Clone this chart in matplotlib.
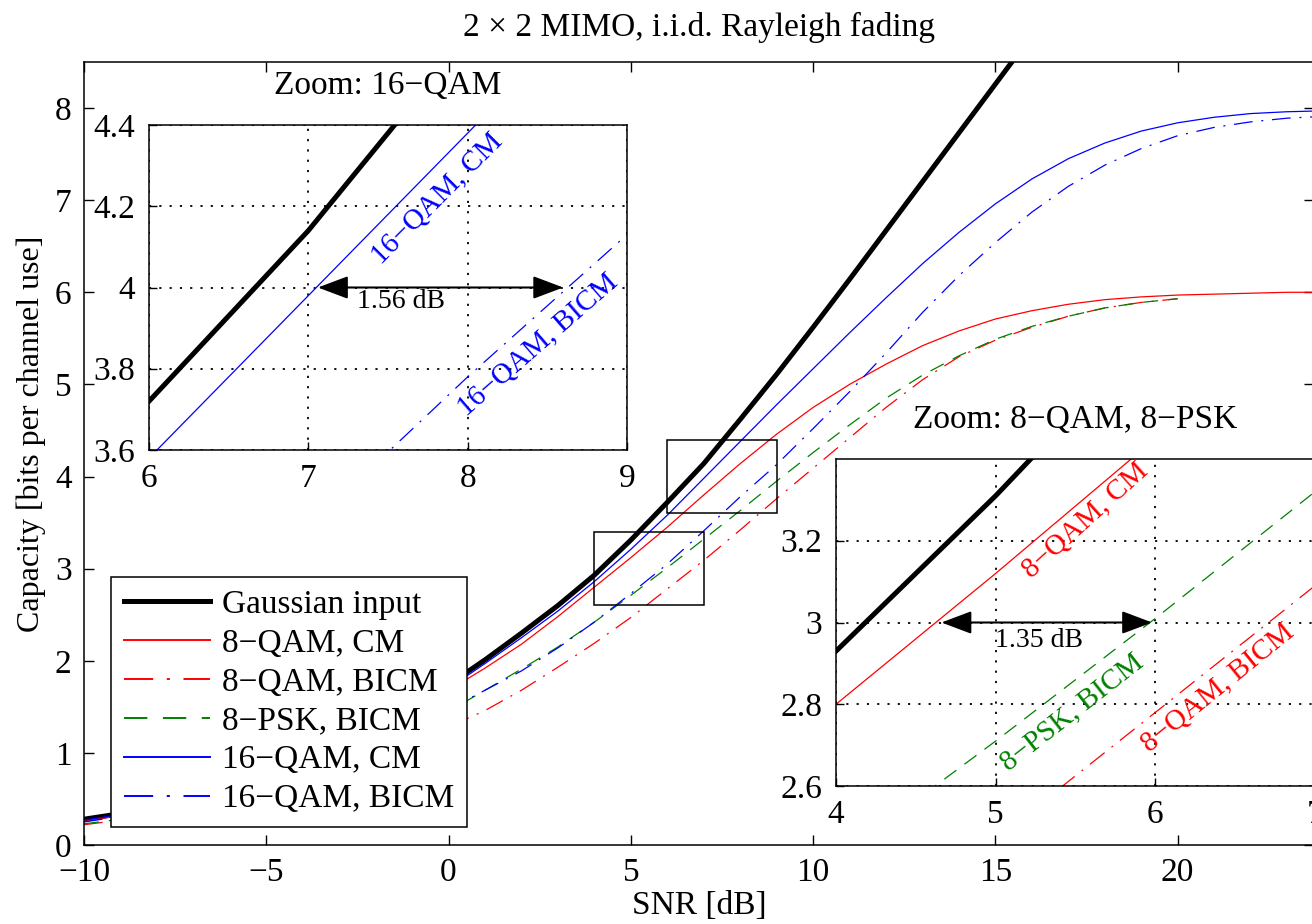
import numpy as np
import matplotlib
matplotlib.use('Agg')
import matplotlib.pyplot as plt
from matplotlib.patches import Rectangle

plt.rcParams['font.family'] = ['Liberation Serif', 'DejaVu Serif']

# SNR grid [dB] and capacity values [bits per channel use]
snr_db = np.arange(-10, 25)
gauss = [0.28, 0.34, 0.42, 0.51, 0.62, 0.75, 0.90, 1.07, 1.26, 1.48,
         1.74, 2.01, 2.30, 2.60, 2.93, 3.31, 3.72, 4.14, 4.62, 5.11,
         5.62, 6.14, 6.67, 7.20, 7.73, 8.26, 8.79]
qam8_cm = [0.26, 0.32, 0.40, 0.49, 0.59, 0.71, 0.85, 1.02, 1.20, 1.42,
           1.68, 1.92, 2.18, 2.48, 2.80, 3.12, 3.45, 3.80, 4.14, 4.46,
           4.75, 5.00, 5.22, 5.42, 5.58, 5.71, 5.80, 5.87, 5.92, 5.95,
           5.97, 5.98, 5.99, 6.00, 6.00]
qam8_bicm = [0.22, 0.27, 0.33, 0.40, 0.48, 0.57, 0.68, 0.81, 0.95, 1.11,
             1.28, 1.46, 1.68, 1.93, 2.19, 2.47, 2.78, 3.09, 3.42, 3.76,
             4.09, 4.42, 4.75, 5.05, 5.30, 5.48, 5.62, 5.74, 5.83, 5.89,
             5.93]
psk8_bicm = [0.23, 0.28, 0.35, 0.43, 0.52, 0.63, 0.75, 0.89, 1.05, 1.24,
             1.45, 1.68, 1.91, 2.15, 2.42, 2.71, 3.01, 3.32, 3.63, 3.95,
             4.26, 4.56, 4.85, 5.10, 5.31, 5.49, 5.63, 5.74, 5.83, 5.89,
             5.93]
qam16_cm = [0.27, 0.33, 0.41, 0.50, 0.60, 0.73, 0.87, 1.04, 1.22, 1.44,
            1.70, 1.97, 2.25, 2.54, 2.86, 3.21, 3.58, 3.98, 4.38, 4.78,
            5.17, 5.56, 5.94, 6.31, 6.65, 6.96, 7.23, 7.45, 7.62, 7.75,
            7.84, 7.90, 7.94, 7.96, 7.97]
qam16_bicm = [0.25, 0.31, 0.38, 0.46, 0.56, 0.67, 0.80, 0.95, 1.11, 1.29,
              1.47, 1.68, 1.89, 2.14, 2.42, 2.73, 3.05, 3.41, 3.78, 4.13,
              4.52, 4.92, 5.34, 5.78, 6.18, 6.54, 6.87, 7.15, 7.38, 7.56,
              7.70, 7.79, 7.85, 7.89, 7.91]

labels = ['Gaussian input', '8\u2212QAM, CM', '8\u2212QAM, BICM',
          '8\u2212PSK, BICM', '16\u2212QAM, CM', '16\u2212QAM, BICM']

# zoom windows
zoom16_x, zoom16_y = (6, 9), (3.6, 4.4)
zoom8_x, zoom8_y = (4, 7), (2.6, 3.4)
zoom16_xticks = [6, 7, 8, 9]
zoom16_yticks = [3.6, 3.8, 4.0, 4.2, 4.4]
zoom16_yticklabels = ['3.6', '3.8', '4', '4.2', '4.4']
zoom8_xticks = [4, 5, 6, 7]
zoom8_yticks = [2.6, 2.8, 3.0, 3.2]
zoom8_yticklabels = ['2.6', '2.8', '3', '3.2']

# SNR gaps marked in the zooms: from, to, level, text x, text y, text
gap16 = (7.06, 8.60, 4.0, 7.58, 3.965, '1.56 dB')
gap8 = (4.66, 5.98, 3.0, 5.27, 2.957, '1.35 dB')

FS = 24
LW = 0.9
dashed = (0, (12, 8))
dashdot = (0, (15, 7, 1.6, 7))

styles = {
    'gauss': dict(color='k', lw=3.6, ls='-'),
    'qam8_cm': dict(color='#ff0000', lw=LW, ls='-'),
    'qam8_bicm': dict(color='#ff0000', lw=LW, ls=dashdot),
    'psk8_bicm': dict(color='#008000', lw=LW, ls=dashed),
    'qam16_cm': dict(color='#0000ff', lw=LW, ls='-'),
    'qam16_bicm': dict(color='#0000ff', lw=LW, ls=dashdot),
}
data = {
    'gauss': gauss, 'qam8_cm': qam8_cm, 'qam8_bicm': qam8_bicm,
    'psk8_bicm': psk8_bicm, 'qam16_cm': qam16_cm, 'qam16_bicm': qam16_bicm,
}
order = ['gauss', 'qam8_cm', 'qam8_bicm', 'psk8_bicm', 'qam16_cm', 'qam16_bicm']


def draw(ax, keys, with_labels=False):
    for key in keys:
        y = data[key]
        lab = labels[order.index(key)] if with_labels else None
        ax.plot(snr_db[:len(y)], y, label=lab, **styles[key])


fig = plt.figure(figsize=(13.12, 9.24), dpi=100)

# main axes
ax = fig.add_axes([84 / 1312, 79 / 924, 1230 / 1312, 783 / 924])
draw(ax, order, with_labels=True)
ax.set_xlim(-10, 23.74)
ax.set_ylim(0, 8.5)
ax.set_xticks([-10, -5, 0, 5, 10, 15, 20])
ax.set_yticks([0, 1, 2, 3, 4, 5, 6, 7, 8])
ax.tick_params(direction='in', top=True, right=True, length=7, width=1,
               labelsize=FS, pad=9)
for s in ax.spines.values():
    s.set_linewidth(1.1)
ax.set_title('2 \u00d7 2 MIMO, i.i.d. Rayleigh fading', fontsize=FS, pad=19)
ax.set_xlabel('SNR [dB]', fontsize=FS)
ax.xaxis.set_label_coords(0.5, -0.058)
ax.set_ylabel('Capacity [bits per channel use]', fontsize=23)
ax.yaxis.set_label_coords(-0.031, 0.525)

for zx, zy in [(zoom16_x, zoom16_y), (zoom8_x, zoom8_y)]:
    ax.add_patch(Rectangle((zx[0], zy[0]), zx[1] - zx[0], zy[1] - zy[0],
                           fill=False, ec='k', lw=1.1, zorder=5))

leg = ax.legend(loc='lower left', bbox_to_anchor=(0.022, 0.023),
                borderaxespad=0, fontsize=FS, frameon=True, fancybox=False,
                edgecolor='k', framealpha=1, handlelength=2.6,
                handletextpad=0.35, labelspacing=0.25, borderpad=0.38)
leg.get_frame().set_linewidth(1.1)
for line in leg.get_lines():
    if line.get_color() != 'k':
        line.set_linewidth(1.4)


def setup_inset(axi, xl, yl, xt, yt, ytl, title):
    axi.set_xlim(*xl)
    axi.set_ylim(*yl)
    axi.set_xticks(xt)
    axi.set_yticks(yt)
    axi.set_yticklabels(ytl)
    axi.tick_params(direction='in', length=6, width=1, labelsize=FS, pad=10)
    axi.grid(True, color='k', lw=1.3, ls=(0, (1.2, 4.5)))
    for s in axi.spines.values():
        s.set_linewidth(1.1)
    axi.set_title(title, fontsize=FS, pad=22)


def gap_arrow(axi, gap):
    x0, x1, yv, tx, ty, txt = gap
    axi.annotate('', xy=(x1, yv), xytext=(x0, yv),
                 arrowprops=dict(arrowstyle='<|-|>,head_length=0.85,head_width=0.32',
                                 color='k', lw=1.5, shrinkA=0, shrinkB=0,
                                 mutation_scale=22))
    axi.text(tx, ty, txt, fontsize=20, ha='center', va='center')


# zoom on 16-QAM
ax1 = fig.add_axes([149 / 1312, 474 / 924, 478 / 1312, 325 / 924])
draw(ax1, ['gauss', 'qam16_cm', 'qam16_bicm'])
setup_inset(ax1, zoom16_x, zoom16_y, zoom16_xticks, zoom16_yticks,
            zoom16_yticklabels, 'Zoom: 16\u2212QAM')
gap_arrow(ax1, gap16)
ax1.text(7.81, 4.22, '16\u2212QAM, CM', color='#0000ff', fontsize=21,
         rotation=45, ha='center', va='center', rotation_mode='anchor')
ax1.text(8.44, 3.86, '16\u2212QAM, BICM', color='#0000ff', fontsize=21,
         rotation=41, ha='center', va='center', rotation_mode='anchor')

# zoom on 8-QAM / 8-PSK
ax2 = fig.add_axes([836 / 1312, 138 / 924, 479 / 1312, 327 / 924])
draw(ax2, ['gauss', 'qam8_cm', 'qam8_bicm', 'psk8_bicm'])
setup_inset(ax2, zoom8_x, zoom8_y, zoom8_xticks, zoom8_yticks,
            zoom8_yticklabels, 'Zoom: 8\u2212QAM, 8\u2212PSK')
gap_arrow(ax2, gap8)
ax2.text(5.56, 3.25, '8\u2212QAM, CM', color='#ff0000', fontsize=21,
         rotation=42, ha='center', va='center', rotation_mode='anchor')
ax2.text(5.48, 2.78, '8\u2212PSK, BICM', color='#008000', fontsize=21,
         rotation=38, ha='center', va='center', rotation_mode='anchor')
ax2.text(6.39, 2.84, '8\u2212QAM, BICM', color='#ff0000', fontsize=21,
         rotation=39, ha='center', va='center', rotation_mode='anchor')

fig.savefig('out.png', dpi=100)
